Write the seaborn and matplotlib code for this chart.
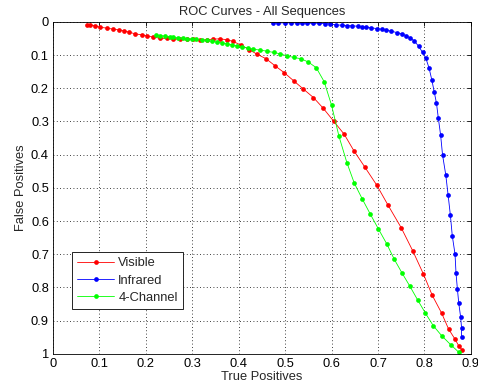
import pandas as pd
import numpy as np
import matplotlib
matplotlib.use("Agg")
import matplotlib.pyplot as plt
import seaborn as sns

# Values
visible_tp = [0.073, 0.080, 0.090, 0.101, 0.117, 0.130, 0.141, 0.153, 0.164, 0.177,
              0.191, 0.202, 0.216, 0.230, 0.245, 0.259, 0.273, 0.288, 0.302, 0.317,
              0.331, 0.344, 0.360, 0.375, 0.388, 0.405, 0.423, 0.439, 0.459, 0.478,
              0.498, 0.518, 0.539, 0.561, 0.582, 0.605, 0.627, 0.648, 0.671, 0.697,
              0.722, 0.750, 0.775, 0.798, 0.817, 0.837, 0.852, 0.866, 0.874, 0.881]
visible_fp = [0.009, 0.009, 0.012, 0.016, 0.019, 0.022, 0.024, 0.027, 0.031, 0.036,
              0.039, 0.042, 0.046, 0.049, 0.050, 0.051, 0.052, 0.052, 0.052, 0.054,
              0.054, 0.052, 0.051, 0.054, 0.059, 0.070, 0.084, 0.097, 0.111, 0.132,
              0.153, 0.177, 0.202, 0.228, 0.260, 0.300, 0.338, 0.388, 0.436, 0.491,
              0.553, 0.620, 0.690, 0.760, 0.824, 0.877, 0.925, 0.956, 0.976, 0.988]

infrared_tp = [0.473, 0.485, 0.500, 0.513, 0.525, 0.536, 0.548, 0.561, 0.573, 0.586,
               0.596, 0.609, 0.622, 0.634, 0.645, 0.656, 0.665, 0.675, 0.686, 0.697,
               0.708, 0.718, 0.729, 0.740, 0.751, 0.760, 0.769, 0.778, 0.788, 0.796,
               0.803, 0.810, 0.816, 0.821, 0.826, 0.830, 0.835, 0.839, 0.846, 0.851,
               0.856, 0.860, 0.866, 0.868, 0.871, 0.874, 0.878, 0.880, 0.880]
infrared_fp = [0.003, 0.003, 0.003, 0.003, 0.003, 0.003, 0.004, 0.004, 0.004, 0.005,
               0.006, 0.009, 0.010, 0.011, 0.012, 0.013, 0.015, 0.016, 0.018, 0.020,
               0.022, 0.025, 0.028, 0.032, 0.036, 0.041, 0.048, 0.057, 0.074, 0.092,
               0.109, 0.139, 0.175, 0.210, 0.245, 0.290, 0.342, 0.400, 0.461, 0.521,
               0.583, 0.644, 0.700, 0.755, 0.804, 0.847, 0.889, 0.921, 0.950]

fourch_tp = [0.222, 0.230, 0.241, 0.251, 0.259, 0.270, 0.279, 0.288, 0.299, 0.309,
             0.320, 0.331, 0.342, 0.353, 0.363, 0.374, 0.385, 0.396, 0.407, 0.421,
             0.431, 0.446, 0.460, 0.475, 0.489, 0.503, 0.518, 0.534, 0.550, 0.567,
             0.584, 0.600, 0.616, 0.633, 0.649, 0.666, 0.683, 0.701, 0.719, 0.735,
             0.752, 0.769, 0.786, 0.802, 0.819, 0.837, 0.857, 0.874]
fourch_fp = [0.039, 0.041, 0.043, 0.045, 0.047, 0.048, 0.050, 0.051, 0.052, 0.053,
             0.055, 0.056, 0.058, 0.061, 0.063, 0.066, 0.069, 0.072, 0.075, 0.079,
             0.082, 0.085, 0.088, 0.092, 0.096, 0.102, 0.107, 0.111, 0.121, 0.138,
             0.180, 0.251, 0.345, 0.424, 0.486, 0.533, 0.578, 0.624, 0.669, 0.715,
             0.757, 0.797, 0.839, 0.877, 0.915, 0.945, 0.973, 0.995]

series_names = ["Visible", "Infrared", "4-Channel"]
series_colors = {"Visible": "#ff0000", "Infrared": "#0000ff", "4-Channel": "#00ff00"}

x_ticks = [0, 0.1, 0.2, 0.3, 0.4, 0.5, 0.6, 0.7, 0.8, 0.9]
x_tick_labels = ["0", "0.1", "0.2", "0.3", "0.4", "0.5", "0.6", "0.7", "0.8", "0.9"]
y_ticks = [0, 0.1, 0.2, 0.3, 0.4, 0.5, 0.6, 0.7, 0.8, 0.9, 1]
y_tick_labels = ["0", "0.1", "0.2", "0.3", "0.4", "0.5", "0.6", "0.7", "0.8", "0.9", "1"]

# long table for seaborn
frames = []
for name, tp, fp in zip(series_names,
                        [visible_tp, infrared_tp, fourch_tp],
                        [visible_fp, infrared_fp, fourch_fp]):
    frames.append(pd.DataFrame({"tp": tp, "fp": fp, "curve": name}))
df = pd.concat(frames, ignore_index=True)

sns.set_style("white")
plt.rcParams["font.family"] = ["Liberation Sans", "DejaVu Sans"]
fs = 9.3

fig = plt.figure(figsize=(4.78, 3.91), dpi=100)
ax = fig.add_axes([0.111, 0.095, 0.874, 0.849])

sns.lineplot(data=df, x="tp", y="fp", hue="curve", hue_order=series_names,
             palette=series_colors, sort=False, estimator=None,
             marker="o", markersize=3.4, markeredgewidth=0, linewidth=0.6,
             ax=ax)

ax.set_xlim(0, 0.9)
ax.set_ylim(1, 0)
ax.set_xticks(x_ticks)
ax.set_xticklabels(x_tick_labels)
ax.set_yticks(y_ticks)
ax.set_yticklabels(y_tick_labels)
ax.tick_params(direction="in", length=3, width=0.6, labelsize=fs,
               top=True, right=True, colors="black", pad=3)
ax.grid(True, linestyle=(0, (1, 3)), color="black", linewidth=0.6)
for sp in ax.spines.values():
    sp.set_visible(True)
    sp.set_color("black")
    sp.set_linewidth(0.6)

ax.set_title("ROC Curves - All Sequences", fontsize=fs, pad=5)
ax.set_xlabel("True Positives", fontsize=fs, labelpad=1)
ax.set_ylabel("False Positives", fontsize=fs, labelpad=3)

leg = ax.legend(loc="lower left", bbox_to_anchor=(0.045, 0.135), fontsize=fs,
                frameon=True, fancybox=False, edgecolor="black",
                handlelength=2.9, borderpad=0.4, labelspacing=0.4,
                handletextpad=0.3, borderaxespad=0)
leg.get_frame().set_linewidth(0.6)
leg.get_frame().set_alpha(1)

fig.savefig("out.png", dpi=100)
